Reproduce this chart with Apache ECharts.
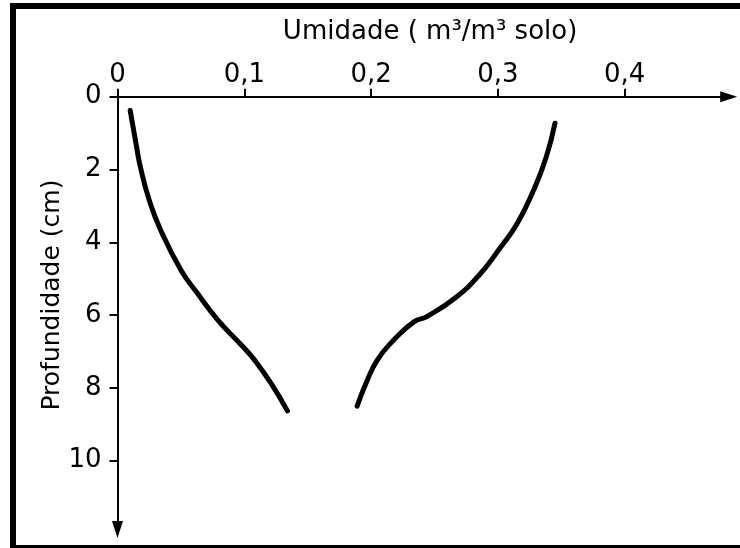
<!DOCTYPE html>
<html>
<head>
<meta charset="utf-8">
<script src="https://cdn.jsdelivr.net/npm/echarts@6/dist/echarts.min.js"></script>
<style>
  html, body { margin: 0; padding: 0; background: #fff; }
  #chart { width: 740px; height: 548px; }
</style>
</head>
<body>
<div id="chart"></div>
<script>
// perfil de umidade do solo: umidade (m3/m3) x profundidade (cm)
const leftMoisture = [0.010, 0.015, 0.018, 0.025, 0.034, 0.050, 0.063, 0.079, 0.099, 0.108, 0.121, 0.134]
const leftDepth = [0.38, 1.37, 1.92, 2.84, 3.66, 4.76, 5.40, 6.13, 6.87, 7.23, 7.87, 8.63]
const rightMoisture = [0.345, 0.338, 0.328, 0.315, 0.302, 0.286, 0.267, 0.244, 0.234, 0.218, 0.205, 0.196, 0.189]
const rightDepth = [0.73, 1.67, 2.58, 3.50, 4.14, 4.87, 5.51, 6.04, 6.18, 6.68, 7.23, 7.87, 8.50]
const xTicks = [0, 0.1, 0.2, 0.3, 0.4]
const yTicks = [0, 2, 4, 6, 8, 10]
const xMax = 0.482
const yMax = 11.89

const font = 'DejaVu Sans'
const toPairs = (xs, ys) => xs.map((x, i) => [x, ys[i]])

const chart = echarts.init(document.getElementById('chart'))
const option = {
    animation: false,
    backgroundColor: '#fff',
    grid: {
        left: 117.5,
        top: 96.7,
        width: xMax * 1268,
        height: yMax * 36.4,
    },
    xAxis: {
        type: 'value',
        position: 'top',
        min: 0,
        max: xMax,
        name: 'Umidade ( m³/m³ solo)',
        nameLocation: 'middle',
        nameGap: 51,
        nameTextStyle: { fontFamily: font, fontSize: 26, color: '#000', padding: [0, 0, 0, 14] },
        axisLine: {
            lineStyle: { color: '#000', width: 2 },
            symbol: ['none', 'triangle'],
            symbolSize: [11, 17],
        },
        axisTick: { show: true, length: 8, lineStyle: { color: '#000', width: 2 }, customValues: xTicks },
        axisLabel: {
            customValues: xTicks,
            margin: 8,
            fontFamily: font,
            fontSize: 26,
            color: '#000',
            formatter: v => String(v).replace('.', ','),
        },
        splitLine: { show: false },
    },
    yAxis: {
        type: 'value',
        inverse: true,
        min: 0,
        max: yMax,
        name: 'Profundidade (cm)',
        nameLocation: 'middle',
        nameGap: 53,
        nameMoveOverlap: false,
        nameRotate: 90,
        nameTextStyle: { fontFamily: font, fontSize: 25, color: '#000', padding: [0, 0, 0, 36] },
        axisLine: {
            lineStyle: { color: '#000', width: 2 },
            symbol: ['triangle', 'none'],
            symbolSize: [11, 17],
        },
        axisTick: { show: true, length: 8, lineStyle: { color: '#000', width: 2 }, customValues: yTicks },
        axisLabel: {
            customValues: yTicks,
            margin: 16,
            fontFamily: font,
            fontSize: 26,
            color: '#000',
        },
        splitLine: { show: false },
    },
    series: [
        {
            type: 'line',
            data: toPairs(leftMoisture, leftDepth),
            smooth: true,
            showSymbol: false,
            lineStyle: { color: '#000', width: 5, cap: 'round' },
        },
        {
            type: 'line',
            data: toPairs(rightMoisture, rightDepth),
            smooth: true,
            showSymbol: false,
            lineStyle: { color: '#000', width: 5, cap: 'round' },
        },
    ],
    graphic: [
        // moldura
        { type: 'rect', shape: { x: 10, y: 3, width: 730, height: 6 }, style: { fill: '#000' } },
        { type: 'rect', shape: { x: 10, y: 3, width: 6, height: 545 }, style: { fill: '#000' } },
        { type: 'rect', shape: { x: 10, y: 545, width: 730, height: 3 }, style: { fill: '#000' } },
    ],
}
chart.setOption(option)
window.addEventListener('resize', () => chart.resize())
</script>
</body>
</html>
